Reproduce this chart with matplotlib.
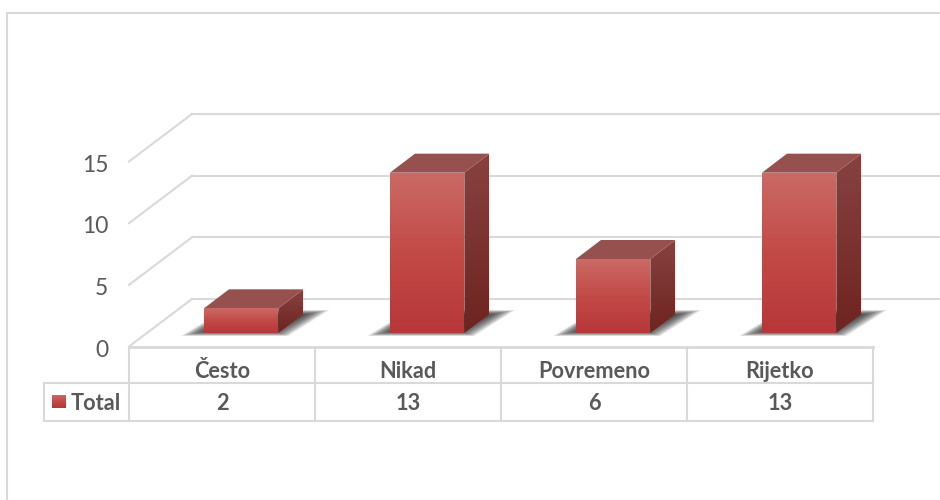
import numpy as np
import matplotlib
matplotlib.use("Agg")
import matplotlib.pyplot as plt
from matplotlib.colors import LinearSegmentedColormap
from matplotlib.lines import Line2D
from matplotlib.patches import Polygon
from matplotlib.transforms import ScaledTranslation

categories = ["Često", "Nikad", "Povremeno", "Rijetko"]
values = [2, 13, 6, 13]
series_name = "Total"
y_ticks = [0, 5, 10, 15]

W, H = 940, 500
GRID = "#D9D9D9"
TEXT = "#595959"
plt.rcParams["font.family"] = ["Lato", "DejaVu Sans"]

fig = plt.figure(figsize=(W / 100, H / 100), dpi=100, facecolor="white")
L, R, B, T = 129, 873, 346.5, 161.5
ax = fig.add_axes([L / W, 1 - B / H, (R - L) / W, (B - T) / H])
ax.set_xlim(0, len(categories))
ax.set_ylim(0, 15)
ax.patch.set_alpha(0)
for s in ax.spines.values():
    s.set_visible(False)

ux = (R - L) / len(categories)   # pixels per category
uy = (B - T) / 15                # pixels per value unit
dx = lambda p: p / ux
dy = lambda p: p / uy


def line(xs, ys, lw=1.5, z=1):
    ax.add_line(Line2D(xs, ys, color=GRID, lw=lw, clip_on=False, zorder=z,
                       solid_capstyle="projecting"))


# back wall and floor
wall_x, wall_y = dx(63), dy(47.5)
for v in y_ticks:
    line([0, wall_x], [v, v + wall_y])
    line([wall_x, dx(W - L)], [v + wall_y, v + wall_y])

ax.set_yticks(y_ticks)
ax.set_yticklabels([str(v) for v in y_ticks], fontsize=16.5, color=TEXT)
ax.tick_params(axis="y", length=0, pad=15)
shift = ScaledTranslation(0, -1.2 / 72, fig.dpi_scale_trans)
for lab in ax.get_yticklabels():
    lab.set_transform(lab.get_transform() + shift)
ax.set_xticks(np.arange(len(categories)) + 0.5)
ax.set_xticklabels(categories, fontsize=15.7, fontweight="bold", color=TEXT)
ax.tick_params(axis="x", length=0, pad=10.5)

# data table
row1, row2 = -dy(36.5), -dy(74.5)
row_mid = (row1 + row2) / 2 - dy(1.5)
for i in range(len(categories) + 1):
    line([i, i], [0, row2], lw=1.5, z=1)
line([0, len(categories)], [0, 0], lw=2)
line([-dx(85), len(categories)], [row1, row1])
line([-dx(85), len(categories)], [row2, row2])
line([-dx(85), -dx(85)], [row1, row2])
for i, v in enumerate(values):
    ax.text(i + 0.5, row_mid, str(v), ha="center", va="center",
            fontsize=15.7, fontweight="bold", color=TEXT)
ax.text(-dx(58), row_mid, series_name, ha="left", va="center",
        fontsize=15.7, fontweight="bold", color=TEXT)

front_cm = LinearSegmentedColormap.from_list("f", ["#CB6A66", "#C24A46", "#B8373A"])
side_cm = LinearSegmentedColormap.from_list("s", ["#87423F", "#6E2421"])


def gradient(pts, cmap, z):
    xs, ys = zip(*pts)
    g = np.linspace(0, 1, 128).reshape(-1, 1)
    im = ax.imshow(g, cmap=cmap, aspect="auto", zorder=z, origin="upper",
                   extent=[min(xs), max(xs), min(ys), max(ys)])
    poly = Polygon(pts, closed=True, transform=ax.transData, fc="none", ec="none")
    im.set_clip_box(fig.bbox)
    im.set_clip_path(poly)
    ax.set_xlim(0, len(categories))
    ax.set_ylim(0, 15)


# legend swatch
sw = [(-dx(77), row1 - dy(12)), (-dx(63), row1 - dy(12)),
      (-dx(63), row1 - dy(25)), (-dx(77), row1 - dy(25))]
gradient(sw, front_cm, 4)

# 3-D columns
bar_w = 0.4
bar_off = 0.403
base = dy(13.5)
ddx, ddy = dx(25), dy(19)
for i, v in enumerate(values):
    x0 = i + bar_off
    x1 = x0 + bar_w
    y0 = base
    y1 = base + v
    # soft floor shadow: nested parallelograms fading outwards
    outer = np.array([(x0 - dx(23), y0 - dy(3)), (x1 + dx(10), y0 - dy(3)),
                      (x1 + ddx + dx(26), y0 + ddy + dy(4)), (x0 + dx(20), y0 + ddy + dy(4))])
    inner = np.array([(x0 + dx(8), y0 + dy(3)), (x1 - dx(8), y0 + dy(3)),
                      (x1 + ddx - dx(6), y0 + ddy - dy(2)), (x0 + dx(24), y0 + ddy - dy(2))])
    for k in range(24):
        t = k / 23
        ax.add_patch(Polygon(outer + (inner - outer) * t, closed=True, fc="#1E1E1E",
                             ec="none", alpha=0.07, zorder=2, clip_on=False))
    gradient([(x1, y0), (x1 + ddx, y0 + ddy), (x1 + ddx, y1 + ddy), (x1, y1)], side_cm, 3)
    ax.add_patch(Polygon([(x0, y1), (x1, y1), (x1 + ddx, y1 + ddy), (x0 + ddx, y1 + ddy)],
                         closed=True, fc="#96504E", ec="none", zorder=3, clip_on=False))
    gradient([(x0, y0), (x1, y0), (x1, y1), (x0, y1)], front_cm, 4)

# outer chart frame (bottom and right edges fall outside the crop)
px = dict(color=GRID, lw=1.5, transform=fig.transFigure)
fig.add_artist(Line2D([6.5 / W, 6.5 / W], [0, 1 - 13 / H], **px))
fig.add_artist(Line2D([6.5 / W, 1], [1 - 13 / H, 1 - 13 / H], **px))

fig.savefig("out.png", dpi=100, facecolor="white")
